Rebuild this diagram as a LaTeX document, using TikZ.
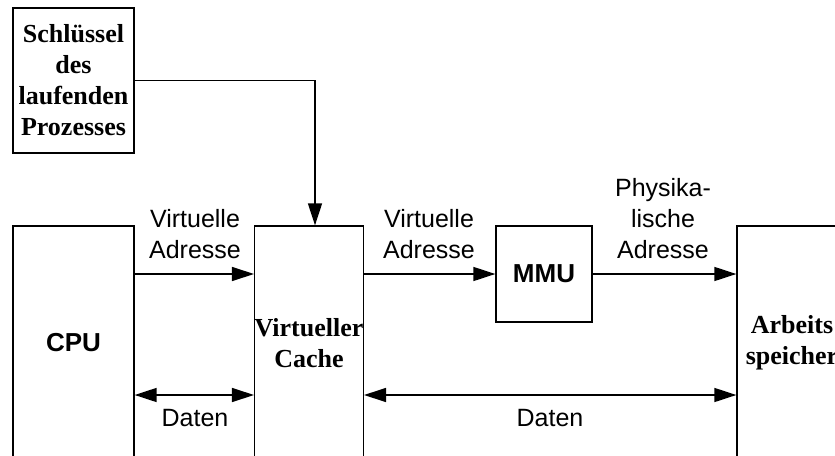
\documentclass[tikz,border=0pt]{standalone}
\usepackage{fontspec}
\setmainfont{Liberation Sans}
\newfontfamily\boxserif{Liberation Serif}
\usepackage{tikz}
\usetikzlibrary{arrows.meta}
\tikzstyle{box}=[draw, line width=1.3pt, inner sep=0pt, align=center]
\tikzstyle{serifsty}=[font=\boxserif\bfseries\fontsize{26}{31}\selectfont]
\tikzstyle{sanssty}=[font=\bfseries\fontsize{26}{31}\selectfont]
\tikzstyle{labelsty}=[font=\fontsize{25}{31}\selectfont, align=center]
\tikzstyle{conn}=[line width=1.4pt]

\begin{document}
\begin{tikzpicture}[x=1pt, y=-1pt, >={Triangle[length=22pt,width=14pt]}]
      \useasboundingbox (0,0) rectangle (835,455);
      \clip (0,0) rectangle (835,455);

      % Boxes
      \node[box,serifsty,minimum width=121pt,minimum height=145pt] (key) at (73.5,80.5) {Schlüssel\\des\\laufenden\\Prozesses};
      \node[box,sanssty,minimum width=121pt,minimum height=234pt] (cpu) at (73.5,343) {CPU};
      \node[box,serifsty,minimum width=108pt,minimum height=234pt] (cache) at (309,343) {Virtueller\\Cache};
      \node[box,sanssty,minimum width=96pt,minimum height=96pt] (mmu) at (544,274) {MMU};
      \node[box,serifsty,minimum width=110pt,minimum height=234pt] (ram) at (792,343) {Arbeits\\speicher};

      % Height of the data lines
      \coordinate (datay) at (0,395);

      % Address path
      \draw[conn,->] (key.east) -| ([xshift=6pt]cache.north);
      \draw[conn,->] (cpu.east |- mmu) -- (cache.west |- mmu);
      \draw[conn,->] (cache.east |- mmu) -- (mmu.west);
      \draw[conn,->] (mmu.east) -- (ram.west |- mmu);

      % Data path
      \draw[conn,<->] (cpu.east |- datay) -- (cache.west |- datay);
      \draw[conn,<->] (cache.east |- datay) -- (ram.west |- datay);

      % Labels
      \node[labelsty] (va1) at (195,234) {Virtuelle\\Adresse};
      \node[labelsty] (va2) at (429,234) {Virtuelle\\Adresse};
      \node[labelsty] (pa) at (663,219) {Physika-\\lische\\Adresse};
      \node[labelsty] (d1) at (195,418) {Daten};
      \node[labelsty] (d2) at (550,418) {Daten};
    \end{tikzpicture}
\end{document}
